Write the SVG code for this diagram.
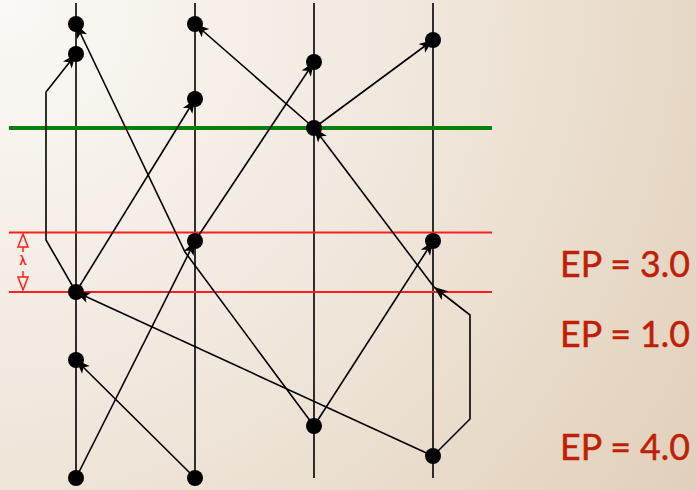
<svg xmlns="http://www.w3.org/2000/svg" width="696" height="490" viewBox="0 0 696 490">
  <defs>
    <radialGradient id="bg" gradientUnits="userSpaceOnUse" cx="0" cy="0" r="860">
      <stop offset="0" stop-color="#fbf9f6"/>
      <stop offset="0.5" stop-color="#f0e7dc"/>
      <stop offset="1" stop-color="#e1cfb8"/>
    </radialGradient>
    <marker id="ah" viewBox="-15 -7 17 14" refX="0" refY="0" markerWidth="17" markerHeight="14" markerUnits="userSpaceOnUse" orient="auto">
      <path d="M0,0 L-14,-5.5 L-10.5,0 L-14,5.5 Z" fill="#000"/>
    </marker>
  </defs>
  <style>
    .proc { stroke: #000; stroke-width: 1.6; fill: none; }
    .ev { fill: #000; }
    .msg { stroke: #000; stroke-width: 1.6; fill: none; marker-end: url(#ah); }
    .cut { stroke: #ff1e1e; stroke-width: 1.8; }
    .mark { stroke: #ff1e1e; stroke-width: 1.5; fill: none; }
    .ep { font-family: Lato, "Liberation Sans", sans-serif; font-size: 37px; fill: #bf1e08; stroke: #bf1e08; stroke-width: 0.5; }
  </style>

  <rect width="696" height="490" fill="url(#bg)"/>

  <!-- process time lines -->
  <g id="p1"><line class="proc" x1="76" y1="3" x2="76" y2="478"/></g>
  <g id="p2"><line class="proc" x1="195" y1="3" x2="195" y2="478"/></g>
  <g id="p3"><line class="proc" x1="314" y1="3" x2="314" y2="478"/></g>
  <g id="p4"><line class="proc" x1="433" y1="3" x2="433" y2="478"/></g>

  <!-- recovery line and lambda band -->
  <g id="green-cut"><line x1="9" y1="128" x2="492" y2="128" stroke="#0a800a" stroke-width="4.2"/></g>
  <g id="red-cuts">
    <line class="cut" x1="9" y1="232.5" x2="492" y2="232.5"/>
    <line class="cut" x1="9" y1="292" x2="492" y2="292"/>
  </g>
  <g id="lambda">
    <path class="mark" d="M23,234 L28,247 L18,247 Z M23,247 L23,252 M23,271 L23,277 M18,277 L28,277 L23,290 Z"/>
    <text x="23" y="265" text-anchor="middle" font-family="Lato, 'Liberation Sans', sans-serif" font-size="13" font-weight="bold" fill="#ff1e1e">λ</text>
  </g>

  <!-- messages -->
  <g id="connectors">
    <path class="msg" d="M76,292 L46,240 L46,92 L76,54"/>
    <path class="msg" d="M314,426 L185,252 L76,24"/>
    <path class="msg" d="M76,478 L195,241"/>
    <path class="msg" d="M195,478 L76,360"/>
    <path class="msg" d="M76,292 L195,99"/>
    <path class="msg" d="M195,241 L314,62"/>
    <path class="msg" d="M314,128 L195,24"/>
    <path class="msg" d="M314,128 L433,40"/>
    <path class="msg" d="M434,287 L314,128"/>
    <path class="msg" d="M433,456 L470,419 L470,315 L434,287"/>
    <path class="msg" d="M433,456 L76,292"/>
    <path class="msg" d="M314,426 L433,241"/>
  </g>

  <!-- events -->
  <g id="e1a"><circle class="ev" cx="76" cy="24" r="8"/></g>
  <g id="e1b"><circle class="ev" cx="76" cy="54" r="8"/></g>
  <g id="e1c"><circle class="ev" cx="76" cy="292" r="8"/></g>
  <g id="e1d"><circle class="ev" cx="76" cy="360" r="8"/></g>
  <g id="e1e"><circle class="ev" cx="76" cy="478" r="8"/></g>
  <g id="e2a"><circle class="ev" cx="195" cy="24" r="8"/></g>
  <g id="e2b"><circle class="ev" cx="195" cy="99" r="8"/></g>
  <g id="e2c"><circle class="ev" cx="195" cy="241" r="8"/></g>
  <g id="e2d"><circle class="ev" cx="195" cy="478" r="8"/></g>
  <g id="e3a"><circle class="ev" cx="314" cy="62" r="8"/></g>
  <g id="e3b"><circle class="ev" cx="314" cy="128" r="8"/></g>
  <g id="e3c"><circle class="ev" cx="314" cy="426" r="8"/></g>
  <g id="e4a"><circle class="ev" cx="433" cy="40" r="8"/></g>
  <g id="e4b"><circle class="ev" cx="433" cy="241" r="8"/></g>
  <g id="e4c"><circle class="ev" cx="433" cy="456" r="8"/></g>

  <!-- edge probabilities -->
  <g id="labels">
    <text class="ep" x="560" y="277" textLength="130" lengthAdjust="spacingAndGlyphs">EP = 3.0</text>
    <text class="ep" x="560" y="347" textLength="130" lengthAdjust="spacingAndGlyphs">EP = 1.0</text>
    <text class="ep" x="560" y="460" textLength="130" lengthAdjust="spacingAndGlyphs">EP = 4.0</text>
  </g>
</svg>
